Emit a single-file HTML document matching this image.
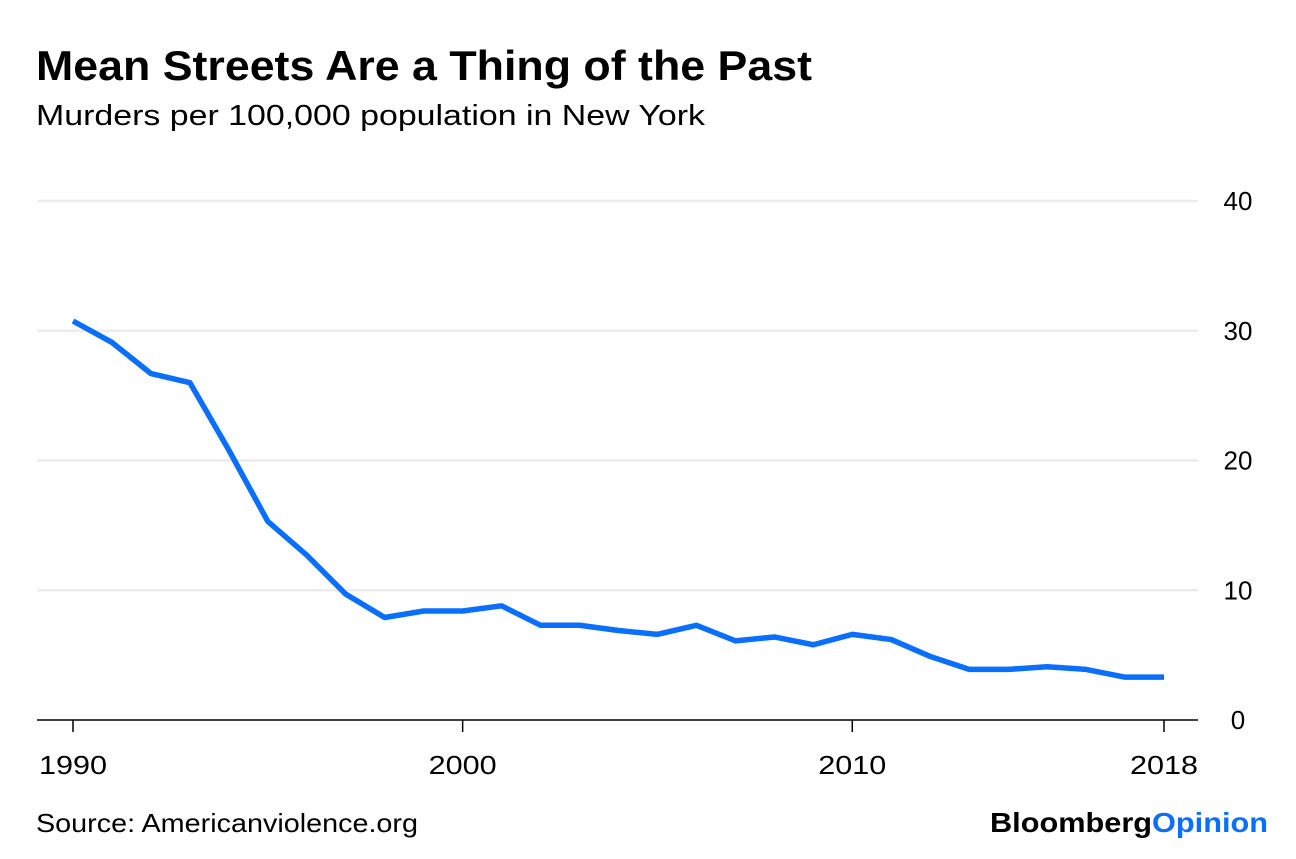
<!DOCTYPE html>
<html><head><meta charset="utf-8"><style>
body{margin:0;background:#fff;width:1296px;height:854px;overflow:hidden;font-family:"Liberation Sans",sans-serif;}
</style></head><body>
<svg width="1296" height="854">
<text x="36" y="80" font-size="42" font-weight="bold" fill="#000" textLength="776" lengthAdjust="spacingAndGlyphs">Mean Streets Are a Thing of the Past</text>
<text x="36" y="125" font-size="29" fill="#000" textLength="669" lengthAdjust="spacingAndGlyphs">Murders per 100,000 population in New York</text>
<g id="grid"></g>
<g id="xax"></g>
<path id="line" fill="none" stroke="#0a6fff" stroke-width="5.5" stroke-linejoin="round"/>
<text x="36" y="832" font-size="26" fill="#000" textLength="382" lengthAdjust="spacingAndGlyphs">Source: Americanviolence.org</text>
<text x="990" y="832" font-size="28" font-weight="bold" textLength="278" lengthAdjust="spacingAndGlyphs"><tspan fill="#000">Bloomberg</tspan><tspan fill="#0a6fff">Opinion</tspan></text>
</svg>
<script>
const years=[1990,1991,1992,1993,1994,1995,1996,1997,1998,1999,2000,2001,2002,2003,2004,2005,2006,2007,2008,2009,2010,2011,2012,2013,2014,2015,2016,2017,2018];
const rates=[30.75,29.1,26.7,26.0,20.8,15.3,12.7,9.7,7.9,8.4,8.4,8.8,7.3,7.3,6.9,6.6,7.3,6.1,6.4,5.8,6.6,6.2,4.9,3.9,3.9,4.1,3.9,3.3,3.3];
const yTicks=[0,10,20,30,40];
const xTicks=[1990,2000,2010,2018];
const NS="http://www.w3.org/2000/svg";
const x=v=>73+(v-1990)*(1164-73)/28;
const y=v=>720-v*(720-201)/40;
const grid=document.getElementById('grid'),xax=document.getElementById('xax');
yTicks.forEach(t=>{
 if(t>0){const l=document.createElementNS(NS,'line');
 
 
 l.setAttribute('x1',37);l.setAttribute('x2',1198);l.setAttribute('y1',y(t));l.setAttribute('y2',y(t));
 l.setAttribute('stroke','#ececec');l.setAttribute('stroke-width','2.5');grid.appendChild(l);}
 const tx=document.createElementNS(NS,'text');
 
 
 tx.setAttribute('x',1238);tx.setAttribute('y',y(t)+9);tx.setAttribute('font-size','26');tx.setAttribute('text-anchor','middle');
 tx.textContent=t;grid.appendChild(tx);
});
const ax=document.createElementNS(NS,'line');


ax.setAttribute('x1',37);ax.setAttribute('x2',1198);ax.setAttribute('y1',720);ax.setAttribute('y2',720);ax.setAttribute('stroke','#000');ax.setAttribute('stroke-width','1.5');xax.appendChild(ax);
xTicks.forEach(t=>{
 const l=document.createElementNS(NS,'line');
 
 
 l.setAttribute('x1',x(t));l.setAttribute('x2',x(t));l.setAttribute('y1',720);l.setAttribute('y2',732);l.setAttribute('stroke','#000');l.setAttribute('stroke-width','1.5');xax.appendChild(l);
 const tx=document.createElementNS(NS,'text');
 
 
 tx.setAttribute('x',x(t));tx.setAttribute('y',774);tx.setAttribute('font-size','26');tx.setAttribute('text-anchor','middle');
 tx.setAttribute('textLength','68');tx.setAttribute('lengthAdjust','spacingAndGlyphs');
 tx.textContent=t;xax.appendChild(tx);
});
document.getElementById('line').setAttribute('d',years.map((yr,i)=>(i?'L':'M')+x(yr)+','+y(rates[i])).join(''));
</script>
</body></html>
